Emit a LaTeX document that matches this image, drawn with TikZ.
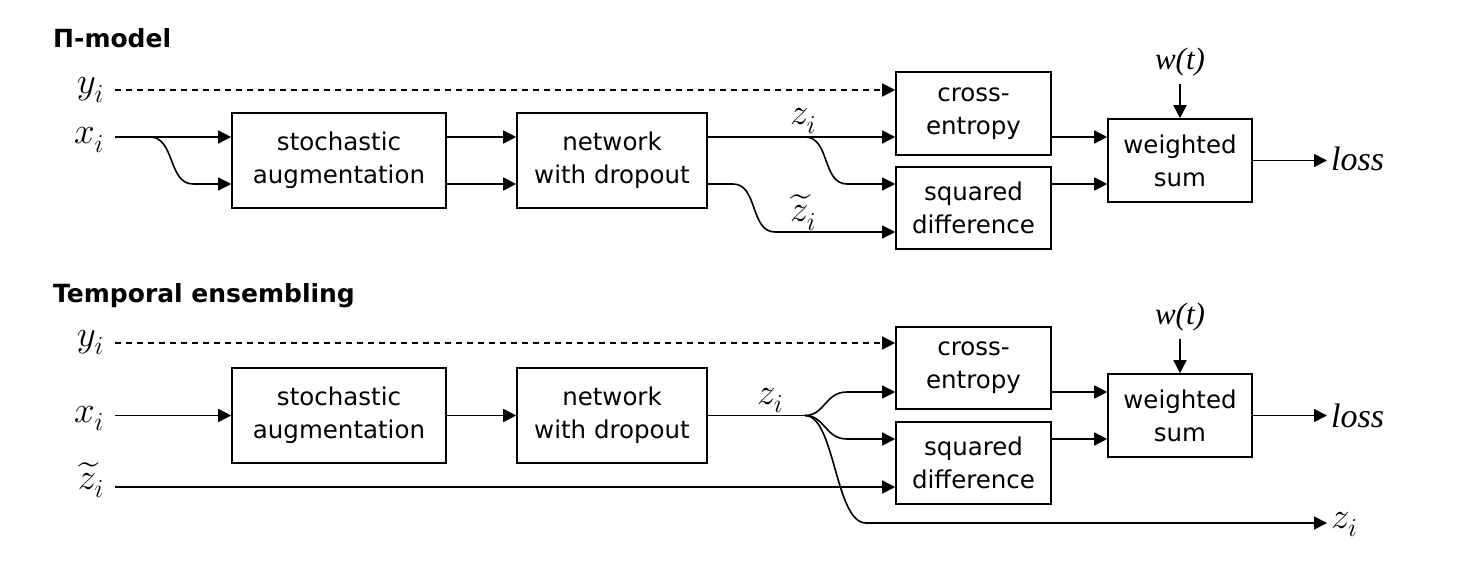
\documentclass[tikz,border=0pt]{standalone}
\usepackage{fontspec}
\setmainfont{DejaVu Sans}
\newfontfamily\tms{Liberation Serif}
\DeclareFontShape{OML}{cmm}{m}{it}{<->cmmi12}{}
\DeclareFontShape{OMX}{cmex}{m}{n}{<->cmex10}{}
\usetikzlibrary{arrows.meta}
\begin{document}
\begin{tikzpicture}[x=1pt,y=-1pt,
  box/.style={draw, line width=1.6pt, align=center, inner sep=0pt, font=\fontsize{24.5}{33}\selectfont},
  ln/.style={line width=1.6pt},
  arr/.style={ln, -{Triangle[length=13pt,width=13pt]}},
  dsh/.style={arr, dash pattern=on 6pt off 5pt},
  lab/.style={inner sep=0pt, font=\fontsize{37}{37}\selectfont},
  tlab/.style={inner sep=0pt, font=\fontsize{34}{34}\selectfont\tms\itshape},
  wlab/.style={inner sep=0pt, font=\fontsize{31}{31}\selectfont\tms\itshape},
  ttl/.style={inner sep=0pt, anchor=base west, font=\fontsize{25}{25}\selectfont\bfseries}]
\useasboundingbox (0,0) rectangle (1462,569);

% ---------- Pi-model ----------
\node[ttl] (t1) at (53,48) {Π-model};
\node[lab, anchor=base east] (yi1) at (104,94) {$y_i$};
\node[lab, anchor=base east] (xi1) at (104,144) {$x_i$};
\coordinate (ys1) at (115,90);
\coordinate (xs1) at (115,137);
\coordinate (xb1) at (150,137);

\node[box, minimum width=214pt, minimum height=95pt] (sa1) at (339,160.5) {stochastic\\augmentation};
\node[box, minimum width=190pt, minimum height=95pt] (nd1) at (612,160.5) {network\\with dropout};
\node[box, minimum width=155pt, minimum height=83pt] (ce1) at (973.5,113.5) {cross-\\entropy};
\node[box, minimum width=155pt, minimum height=82pt] (sd1) at (973.5,208) {squared\\difference};
\node[box, minimum width=144pt, minimum height=83pt] (ws1) at (1180,160.5) {weighted\\sum};
\node[wlab, anchor=base] (w1) at (1180,70) {w(t)};
\node[tlab, anchor=base west] (loss1) at (1331,171) {loss};
\node[lab, anchor=base] (z1) at (803,125) {$z_i$};
\node[lab, anchor=base] (zt1) at (803,222) {$\widetilde{z}_i$};

\draw[dsh] (ys1) -- ([yshift=23.5pt]ce1.west);
\draw[arr] (xs1) -- ([yshift=23.5pt]sa1.west);
\draw[arr] (xb1) .. controls (175,137) and (168,184) .. (193,184) -- ([yshift=-23.5pt]sa1.west);
\draw[arr] ([yshift=23.5pt]sa1.east) -- ([yshift=23.5pt]nd1.west);
\draw[arr] ([yshift=-23.5pt]sa1.east) -- ([yshift=-23.5pt]nd1.west);
\coordinate (zb1) at (805,137);
\draw[arr] ([yshift=23.5pt]nd1.east) -- ([yshift=-23.5pt]ce1.west);
\draw[arr] (zb1) .. controls (830,137) and (822,184) .. (847,184) -- ([yshift=24pt]sd1.west);
\draw[arr] ([yshift=-23.5pt]nd1.east) -- (733,184) .. controls (758,184) and (750,232) .. (775,232) -- ([yshift=-24pt]sd1.west);
\draw[arr] ([yshift=-23.5pt]ce1.east) -- ([yshift=23.5pt]ws1.west);
\draw[arr] ([yshift=24pt]sd1.east) -- ([yshift=-23.5pt]ws1.west);
\draw[arr] ([yshift=-14pt]w1.base) -- (ws1.north);
\draw[arr] (ws1.east) -- ([xshift=-4pt]loss1.west |- ws1.east);

% ---------- Temporal ensembling ----------
\node[ttl] (t2) at (53,303) {Temporal ensembling};
\node[lab, anchor=base east] (yi2) at (104,346) {$y_i$};
\node[lab, anchor=base east] (xi2) at (104,422) {$x_i$};
\node[lab, anchor=base east] (zti2) at (104,489) {$\widetilde{z}_i$};
\coordinate (ys2) at (115,343);
\coordinate (xs2) at (115,415.5);
\coordinate (zs2) at (115,487);

\node[box, minimum width=214pt, minimum height=95pt] (sa2) at (339,415.5) {stochastic\\augmentation};
\node[box, minimum width=190pt, minimum height=95pt] (nd2) at (612,415.5) {network\\with dropout};
\node[box, minimum width=155pt, minimum height=82pt] (ce2) at (973.5,368) {cross-\\entropy};
\node[box, minimum width=155pt, minimum height=82pt] (sd2) at (973.5,463) {squared\\difference};
\node[box, minimum width=144pt, minimum height=83pt] (ws2) at (1180,415.5) {weighted\\sum};
\node[wlab, anchor=base] (w2) at (1180,325) {w(t)};
\node[tlab, anchor=base west] (loss2) at (1331,427) {loss};
\node[lab, anchor=base] (z2) at (770,404) {$z_i$};
\node[lab, anchor=base west] (zo2) at (1331,528) {$z_i$};

\draw[dsh] (ys2) -- ([yshift=25pt]ce2.west);
\draw[arr] (xs2) -- (sa2.west);
\draw[arr] (zs2) -- ([yshift=-24pt]sd2.west);
\draw[arr] (sa2.east) -- (nd2.west);
\coordinate (zb2) at (805,415.5);
\draw[ln] (nd2.east) -- (zb2);
\draw[arr] (zb2) .. controls (825,415.5) and (825,392) .. (847,392) -- ([yshift=-24pt]ce2.west);
\draw[arr] (zb2) .. controls (825,415.5) and (825,439) .. (847,439) -- ([yshift=24pt]sd2.west);
\draw[arr] (zb2) .. controls (835,415.5) and (835,523) .. (866,523) -- ([xshift=-4pt]zo2.west |- 0,523);
\draw[arr] ([yshift=-24pt]ce2.east) -- ([yshift=23.5pt]ws2.west);
\draw[arr] ([yshift=24pt]sd2.east) -- ([yshift=-23.5pt]ws2.west);
\draw[arr] ([yshift=-14pt]w2.base) -- (ws2.north);
\draw[arr] (ws2.east) -- ([xshift=-4pt]loss2.west |- ws2.east);
\end{tikzpicture}
\end{document}
